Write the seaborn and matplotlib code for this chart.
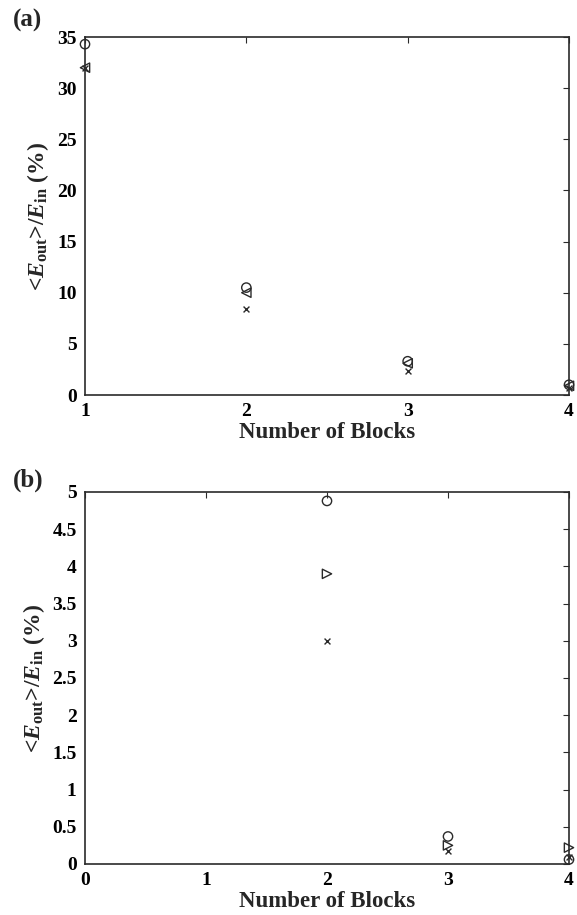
import matplotlib
matplotlib.use("Agg")
import matplotlib.pyplot as plt
import numpy as np
import pandas as pd
import seaborn as sns

# panel (a)
blocks_a = [1, 2, 3, 4]
circle_a = [34.3, 10.5, 3.3, 1.0]
tri_a = [32.0, 10.0, 3.1, 0.9]
cross_a = [32.0, 8.4, 2.3, 0.7]

# panel (b)
blocks_b = [2, 3, 4]
circle_b = [4.88, 0.37, 0.06]
tri_b = [3.9, 0.25, 0.22]
cross_b = [3.0, 0.18, 0.10]

sns.set_style("white")
plt.rcParams["font.family"] = ["Liberation Serif", "DejaVu Serif"]
plt.rcParams["font.weight"] = "bold"
plt.rcParams["mathtext.fontset"] = "custom"
plt.rcParams["mathtext.rm"] = "Liberation Serif:bold"
plt.rcParams["mathtext.it"] = "Liberation Serif:italic:bold"
plt.rcParams["mathtext.bf"] = "Liberation Serif:bold"

W, H = 577, 915
fig = plt.figure(figsize=(W / 100, H / 100), dpi=100)
ax_a = fig.add_axes([85 / W, 1 - 395 / H, 484 / W, 358 / H])
ax_b = fig.add_axes([85 / W, 1 - 864 / H, 484 / W, 372 / H])

ylabel = r"<$E_{\mathrm{out}}$>/$E_{\mathrm{in}}$ (%)"
ink = "#2a2a2a"


def draw(ax, x, series):
    for vals, mk, sz in series:
        if mk == "x":
            sns.scatterplot(x=x, y=vals, marker="x", s=sz, color=ink,
                            linewidth=1.0, ax=ax, clip_on=False, zorder=3)
        else:
            sns.scatterplot(x=x, y=vals, marker=mk, s=sz, facecolors="none",
                            edgecolor=ink, linewidth=1.0, ax=ax,
                            clip_on=False, zorder=3)
    for sp in ax.spines.values():
        sp.set_color(ink)
        sp.set_linewidth(1.2)
    ax.tick_params(direction="in", top=True, right=True, length=4,
                   labelsize=14, width=0.8, pad=6, colors=ink, labelcolor="black")
    ax.set_xlabel("Number of Blocks", fontsize=16.5, fontweight="bold", labelpad=1)
    ax.set_ylabel(ylabel, fontsize=17, fontweight="bold", labelpad=4)


draw(ax_a, blocks_a, [(circle_a, "o", 45), (tri_a, "<", 45), (cross_a, "x", 18)])
ax_a.set_xlim(1, 4)
ax_a.set_ylim(0, 35)
ax_a.set_xticks([1, 2, 3, 4])
ax_a.set_yticks(np.arange(0, 36, 5))
ax_a.set_xticklabels(["1", "2", "3", "4"], fontweight="bold")
ax_a.set_yticklabels([str(v) for v in range(0, 36, 5)], fontweight="bold")

draw(ax_b, blocks_b, [(circle_b, "o", 45), (tri_b, ">", 45), (cross_b, "x", 18)])
ax_b.set_xlim(0, 4)
ax_b.set_ylim(0, 5)
ax_b.set_xticks([0, 1, 2, 3, 4])
yt = [0, 0.5, 1, 1.5, 2, 2.5, 3, 3.5, 4, 4.5, 5]
ax_b.set_yticks(yt)
ax_b.set_xticklabels(["0", "1", "2", "3", "4"], fontweight="bold")
ax_b.set_yticklabels([f"{v:g}" for v in yt], fontweight="bold")

fig.text(13 / W, 1 - 20 / H, "(a)", fontsize=18, fontweight="bold", va="center")
fig.text(13 / W, 1 - 480 / H, "(b)", fontsize=18, fontweight="bold", va="center")

fig.savefig("out.png", dpi=100)
